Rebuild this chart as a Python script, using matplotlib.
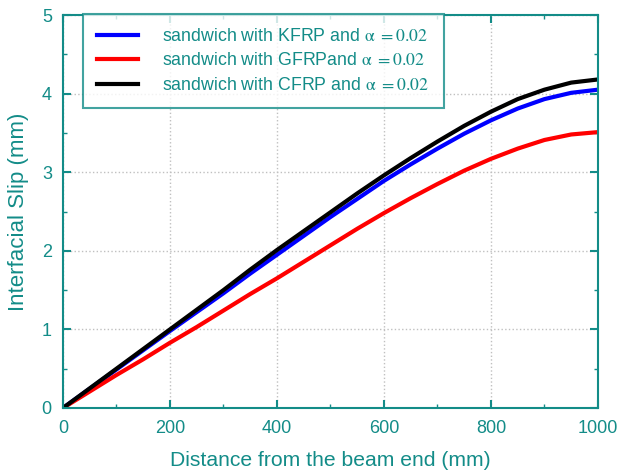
import matplotlib
matplotlib.use('Agg')
import matplotlib.pyplot as plt
from matplotlib.ticker import MultipleLocator

# distance from beam end (mm)
x = [0, 50, 100, 150, 200, 250, 300, 350, 400, 450, 500,
     550, 600, 650, 700, 750, 800, 850, 900, 950, 1000]

# interfacial slip (mm)
slip_kfrp = [0, 0.245, 0.49, 0.735, 0.98, 1.22, 1.46, 1.71, 1.95, 2.19, 2.43,
             2.66, 2.89, 3.10, 3.30, 3.49, 3.66, 3.81, 3.93, 4.01, 4.05]
slip_gfrp = [0, 0.21, 0.42, 0.62, 0.83, 1.03, 1.24, 1.45, 1.65, 1.86, 2.07,
             2.28, 2.48, 2.67, 2.85, 3.02, 3.17, 3.30, 3.41, 3.48, 3.51]
slip_cfrp = [0, 0.25, 0.50, 0.75, 1.00, 1.25, 1.50, 1.76, 2.01, 2.25, 2.49,
             2.73, 2.96, 3.18, 3.39, 3.59, 3.77, 3.93, 4.05, 4.14, 4.18]

labels = [r'sandwich with KFRP and $\mathrm{\alpha\ =0.02}$',
          r'sandwich with GFRPand $\mathrm{\alpha\ =0.02}$',
          r'sandwich with CFRP and $\mathrm{\alpha\ =0.02}$']

teal = '#138c88'
plt.rcParams['font.family'] = ['Liberation Sans', 'DejaVu Sans']
plt.rcParams['mathtext.fontset'] = 'stix'

fig = plt.figure(figsize=(6.21, 4.72), dpi=100)
ax = fig.add_axes([0.1014, 0.1356, 0.8615, 0.8326])

ax.plot(x, slip_kfrp, color='#0000ff', lw=3, label=labels[0])
ax.plot(x, slip_gfrp, color='#ff0000', lw=3, label=labels[1])
ax.plot(x, slip_cfrp, color='#000000', lw=3, label=labels[2])

ax.set_xlim(0, 1000)
ax.set_ylim(0, 5)
ax.xaxis.set_major_locator(MultipleLocator(200))
ax.xaxis.set_minor_locator(MultipleLocator(100))
ax.yaxis.set_major_locator(MultipleLocator(1))
ax.yaxis.set_minor_locator(MultipleLocator(0.5))
ax.grid(True, which='major', color='#c0c0c0', ls=':', lw=1)

for s in ax.spines.values():
    s.set_color(teal)
    s.set_linewidth(1.5)
ax.tick_params(which='both', direction='in', colors=teal, labelsize=13,
               top=True, right=True)
ax.tick_params(which='major', length=6, width=1.5)
ax.tick_params(which='minor', length=3, width=1)
ax.tick_params(axis='x', which='major', pad=9)
ax.tick_params(axis='y', which='major', pad=8)

ax.set_xlabel('Distance from the beam end (mm)', color=teal, fontsize=15.2, labelpad=10)
ax.set_ylabel('Interfacial Slip (mm)', color=teal, fontsize=16, labelpad=9)

leg = ax.legend(loc='upper left', bbox_to_anchor=(0.037, 1.003), borderaxespad=0,
                fontsize=12.75, frameon=True, fancybox=False, handlelength=2.3,
                handletextpad=1.4, borderpad=0.8, labelspacing=0.42)
leg.get_frame().set_edgecolor(teal)
leg.get_frame().set_linewidth(1.5)
for t in leg.get_texts():
    t.set_color(teal)

fig.savefig('out.png', dpi=100)
